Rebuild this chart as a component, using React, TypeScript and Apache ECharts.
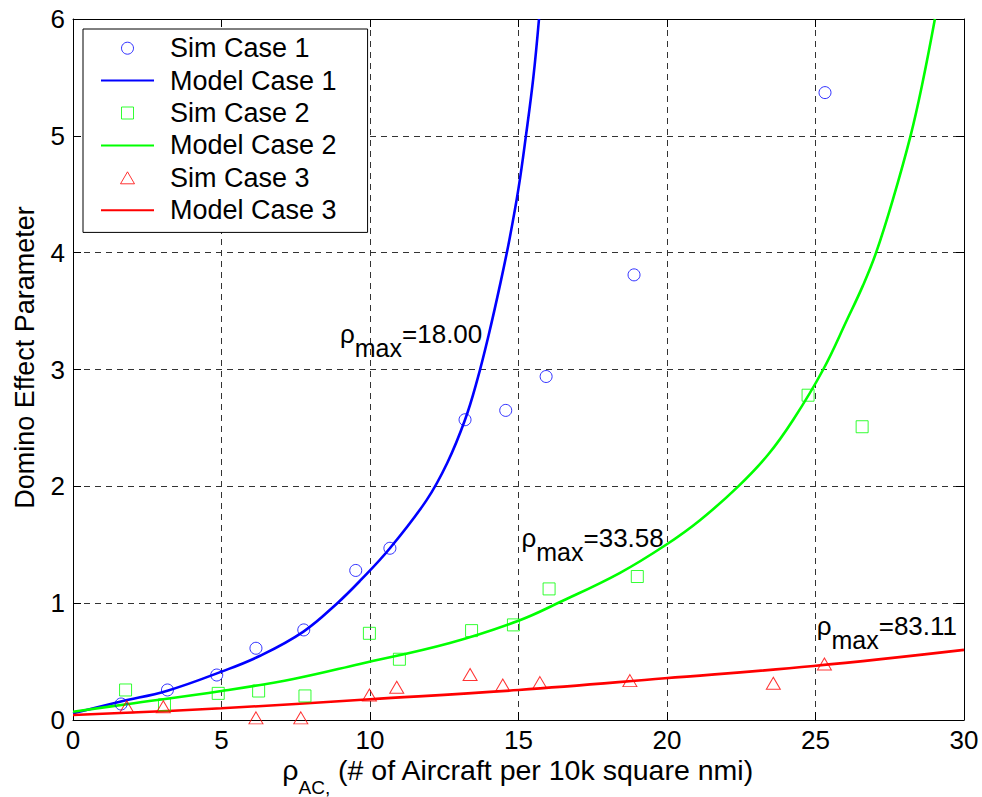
import React, { useEffect, useRef } from "react";
import * as echarts from "echarts";

const FONT = '"Liberation Sans", Arial, Helvetica, sans-serif';

// Simulation data
const sim1X = [1.62, 3.18, 4.84, 6.16, 7.77, 9.52, 10.67, 13.2, 14.57, 15.93, 18.89, 25.32];
const sim1Y = [0.137, 0.257, 0.385, 0.614, 0.771, 1.28, 1.47, 2.57, 2.65, 2.94, 3.81, 5.37];

const sim2X = [1.77, 3.08, 4.89, 6.25, 7.81, 9.98, 10.99, 13.42, 14.83, 16.03, 19.0, 24.75, 26.57];
const sim2Y = [0.257, 0.13, 0.228, 0.248, 0.206, 0.742, 0.52, 0.765, 0.814, 1.122, 1.228, 2.78, 2.51];

const sim3X = [1.81, 3.04, 6.16, 7.67, 9.98, 10.9, 13.37, 14.47, 15.72, 18.75, 23.58, 25.3];
const sim3Y = [0.114, 0.114, 0.018, 0.018, 0.214, 0.28, 0.39, 0.3, 0.32, 0.337, 0.314, 0.48];

// Model curves
const model1X = [0, 1.58, 3.18, 5, 6.3, 7.76, 8.9, 9.66, 10.67, 11.9, 12.6, 13.2, 13.6, 14.0, 14.4, 14.7, 15.0, 15.25, 15.5, 15.69];
const model1Y = [0.057, 0.157, 0.251, 0.414, 0.55, 0.757, 1.0, 1.19, 1.47, 1.88, 2.2, 2.57, 2.9, 3.3, 3.75, 4.12, 4.55, 5.0, 5.5, 6.0];

const model2X = [0, 1.81, 5, 7.42, 9.66, 12.69, 15, 16.4, 18.42, 19.97, 21.11, 22.4, 23.4, 24.25, 25.26, 26.07, 26.6, 27.04, 27.6, 28.2, 28.6, 29.02];
const model2Y = [0.071, 0.135, 0.248, 0.351, 0.48, 0.66, 0.85, 1.01, 1.26, 1.5, 1.71, 2.0, 2.27, 2.57, 3.0, 3.43, 3.72, 4.0, 4.45, 5.0, 5.45, 6.0];

const model3X = [0, 5, 10, 15, 19.93, 24.93, 30];
const model3Y = [0.043, 0.1, 0.177, 0.257, 0.357, 0.462, 0.6];

const seriesNames = ["Sim Case 1", "Model Case 1", "Sim Case 2", "Model Case 2", "Sim Case 3", "Model Case 3"];

// Annotations: rho_max values (text anchored at left of ρ, on the text baseline)
const annoLabels = ["=18.00", "=33.58", "=83.11"];
const annoX = [8.99, 15.1, 25.04];
const annoY = [3.23, 1.484, 0.728];

const xNameMain = "ρ";
const xNameSub = "AC,";
const xNameRest = " (# of Aircraft per 10k square nmi)";
const yName = "Domino Effect Parameter";

const pair = (xs: number[], ys: number[]) => xs.map((x, i) => [x, ys[i]]);

const BLUE = "#0000ff";
const GREEN = "#00ff00";
const RED = "#ff0000";

const SQUARE_ICON = "path://M0,0L12,0L12,12L0,12Z";
const TRI_ICON = "path://M7,0L14,12L0,12Z";

let measureCtx: CanvasRenderingContext2D | null = null;
function measure(text: string, size: number): number {
  if (!measureCtx) measureCtx = document.createElement("canvas").getContext("2d");
  if (!measureCtx) return text.length * size * 0.55;
  measureCtx.font = `${size}px ${FONT}`;
  return measureCtx.measureText(text).width;
}

// piece of text placed with its alphabetic baseline at `base` (approx. center = base - 0.3465*size)
function textPiece(text: string, x: number, base: number, size: number) {
  return {
    type: "text",
    x,
    y: base - 0.3465 * size,
    z: 10,
    silent: true,
    style: {
      text,
      fontSize: size,
      fontFamily: FONT,
      fill: "#000",
      align: "left",
      verticalAlign: "middle",
    },
  };
}

export default function App() {
  const ref = useRef<HTMLDivElement>(null);
  useEffect(() => {
    if (!ref.current) return;
    const chart = echarts.init(ref.current, null, { renderer: "svg" });

    const axisLine = { show: true, onZero: false, lineStyle: { color: "#000", width: 1 } };
    const axisTick = { show: true, inside: true, length: 8, lineStyle: { color: "#000", width: 1 } };
    const splitLine = { show: true, lineStyle: { type: [6, 5], color: "#333", width: 1 } };
    const labelStyle = { fontSize: 26, fontFamily: FONT, color: "#000" };

    const scatter = (name: string, xs: number[], ys: number[], symbol: string, size: any, color: string) => ({
      name,
      type: "scatter",
      data: pair(xs, ys),
      symbol,
      symbolSize: size,
      itemStyle: { color: "rgba(0,0,0,0)", borderColor: color, borderWidth: 1 },
      z: 3,
    });
    const line = (name: string, xs: number[], ys: number[], color: string) => ({
      name,
      type: "line",
      data: pair(xs, ys),
      symbol: "none",
      smooth: 0.4,
      clip: true,
      lineStyle: { color, width: 2.6 },
      itemStyle: { color },
      z: 2,
    });

    const lineLegend = (name: string) => ({ name, itemStyle: { opacity: 0 } });

    const option: any = {
      animation: false,
      backgroundColor: "#fff",
      textStyle: { fontFamily: FONT },
      grid: { left: 73, right: 18, top: 19, bottom: 77, containLabel: false, outerBoundsMode: "none" },
      legend: {
        orient: "vertical",
        left: 83,
        top: 29,
        padding: [3, 31, 6, 17],
        itemWidth: 53,
        itemHeight: 12,
        itemGap: 0,
        symbolKeepAspect: true,
        backgroundColor: "#fff",
        borderColor: "#000",
        borderWidth: 1,
        borderRadius: 0,
        itemStyle: { borderWidth: 1 },
        textStyle: { fontSize: 27, fontFamily: FONT, color: "#000", lineHeight: 32.4, padding: [0, 0, 0, 11] },
        data: [
          { name: seriesNames[0] },
          lineLegend(seriesNames[1]),
          { name: seriesNames[2], icon: SQUARE_ICON },
          lineLegend(seriesNames[3]),
          { name: seriesNames[4], icon: TRI_ICON },
          lineLegend(seriesNames[5]),
        ],
      },
      xAxis: [
        {
          type: "value",
          min: 0,
          max: 30,
          interval: 5,
          position: "bottom",
          axisLine,
          axisTick,
          axisLabel: { ...labelStyle, margin: 7 },
          splitLine,
        },
        {
          type: "value",
          min: 0,
          max: 30,
          interval: 5,
          position: "top",
          axisLine,
          axisTick,
          axisLabel: { show: false },
          splitLine: { show: false },
        },
      ],
      yAxis: [
        {
          type: "value",
          min: 0,
          max: 6,
          interval: 1,
          position: "left",
          axisLine,
          axisTick,
          axisLabel: { ...labelStyle, margin: 8 },
          splitLine,
          name: yName,
          nameLocation: "middle",
          nameGap: 35,
          nameTextStyle: { fontSize: 27, fontFamily: FONT, color: "#000", padding: [0, 0, 0, 24] },
        },
        {
          type: "value",
          min: 0,
          max: 6,
          interval: 1,
          position: "right",
          axisLine,
          axisTick,
          axisLabel: { show: false },
          splitLine: { show: false },
        },
      ],
      series: [
        scatter(seriesNames[0], sim1X, sim1Y, "circle", 12, BLUE),
        line(seriesNames[1], model1X, model1Y, BLUE),
        scatter(seriesNames[2], sim2X, sim2Y, "rect", 12, GREEN),
        line(seriesNames[3], model2X, model2Y, GREEN),
        scatter(seriesNames[4], sim3X, sim3Y, "triangle", [14, 12], RED),
        line(seriesNames[5], model3X, model3Y, RED),
      ],
    };
    chart.setOption(option);

    const graphic: any[] = [];
    // rho_max annotations
    annoLabels.forEach((lab, i) => {
      const p = chart.convertToPixel({ xAxisIndex: 0, yAxisIndex: 0 }, [annoX[i], annoY[i]]) as number[];
      const x0 = p[0];
      const base = p[1];
      const w1 = measure("ρ", 26);
      const w2 = measure("max", 25);
      graphic.push(textPiece("ρ", x0, base, 26));
      graphic.push(textPiece("max", x0 + w1, base + 14, 25));
      graphic.push(textPiece(lab, x0 + w1 + w2, base, 26));
    });

    // x-axis title, centred under the plot
    const left = chart.convertToPixel({ xAxisIndex: 0 }, 0) as number;
    const right = chart.convertToPixel({ xAxisIndex: 0 }, 30) as number;
    const axisY = chart.convertToPixel({ yAxisIndex: 0 }, 0) as number;
    const wa = measure(xNameMain, 28.5);
    const wb = measure(xNameSub, 19);
    const wc = measure(xNameRest, 28.5);
    const start = (left + right) / 2 - (wa + wb + wc) / 2;
    const base = axisY + 60;
    graphic.push(textPiece(xNameMain, start, base, 28.5));
    graphic.push(textPiece(xNameSub, start + wa, base + 14, 19));
    graphic.push(textPiece(xNameRest, start + wa + wb, base, 28.5));

    chart.setOption({ graphic });

    return () => chart.dispose();
  }, []);

  return <div ref={ref} style={{ position: "fixed", left: 0, top: 0, width: 982, height: 797 }} />;
}
